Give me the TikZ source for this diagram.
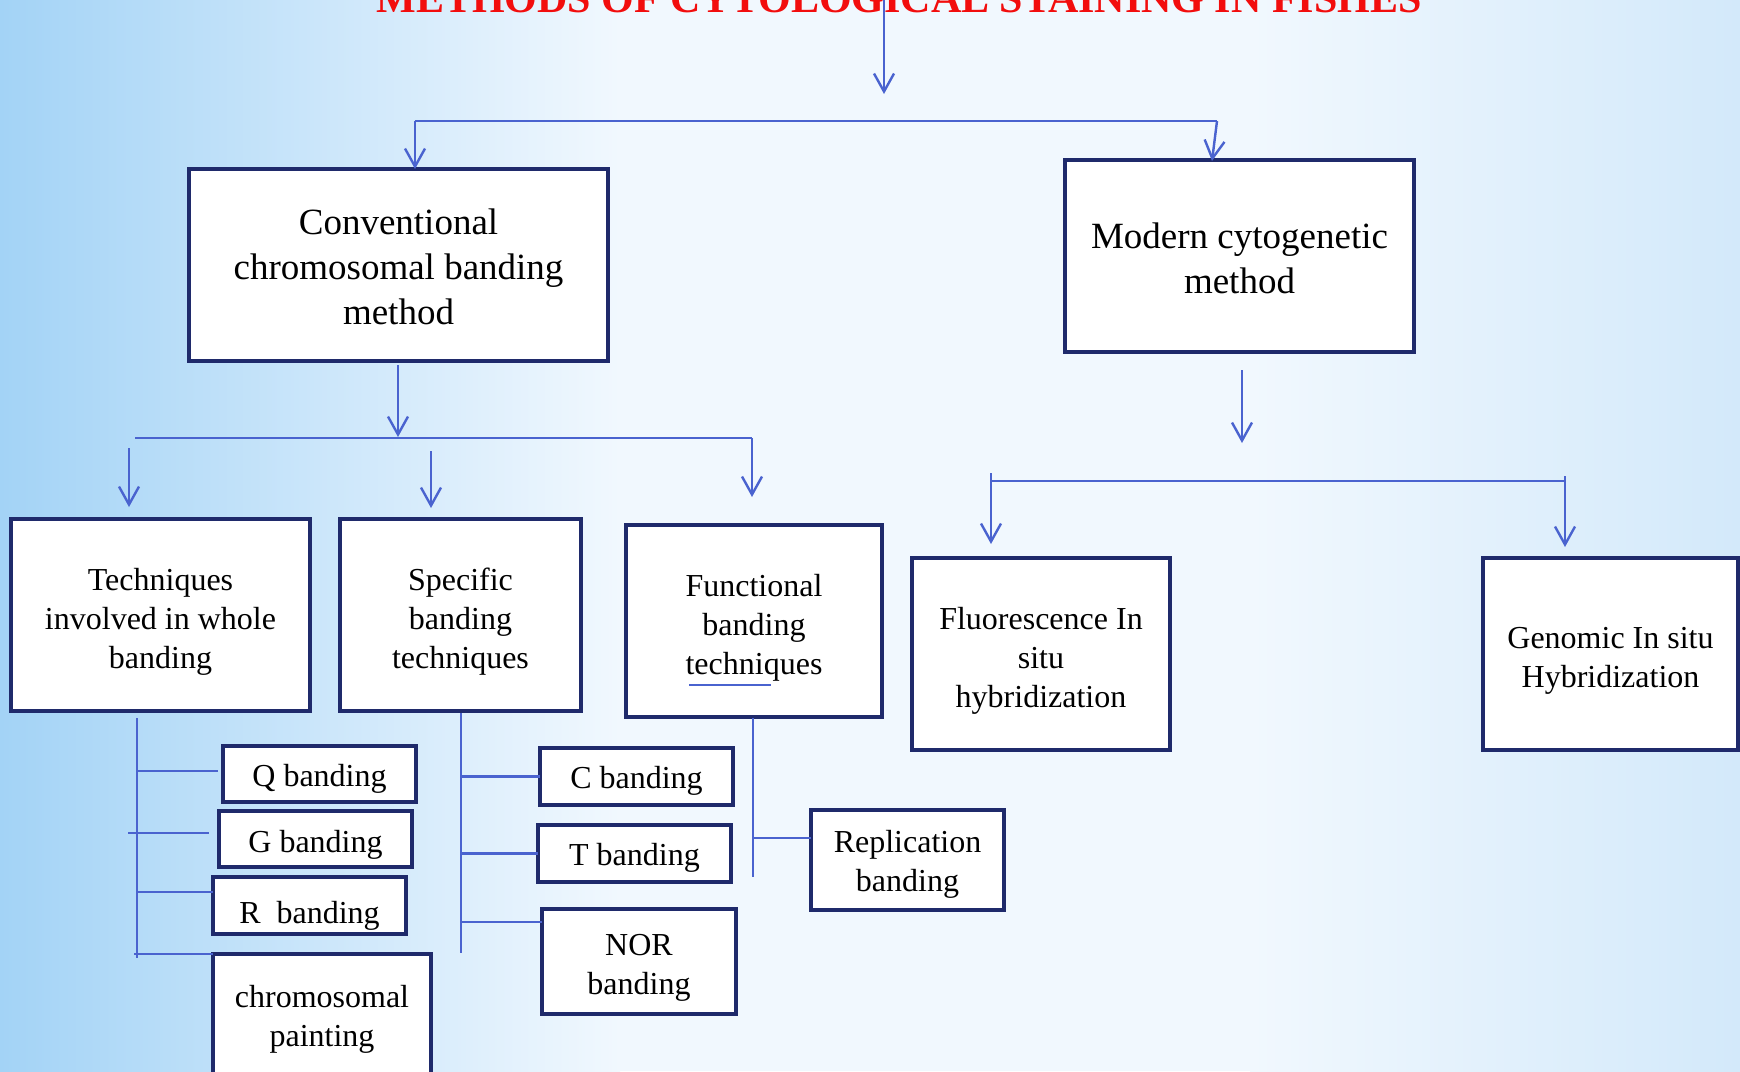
\documentclass[tikz,border=0pt]{standalone}
\usepackage{fontspec}
\setmainfont{Liberation Serif}
\usetikzlibrary{arrows.meta}
\definecolor{boxline}{HTML}{1F2A6B}
\definecolor{conn}{HTML}{4A63CF}
\definecolor{bgL}{HTML}{A3D3F6}
\definecolor{bgM}{HTML}{F1F8FE}
\definecolor{bgR}{HTML}{D3E9FA}
\definecolor{titlered}{HTML}{F20D0D}
\tikzset{
  boxshape/.style={draw=boxline, line width=3.8pt, fill=white, inner sep=0pt, outer sep=0pt},
  bigtxt/.style={align=center, inner sep=0pt, font=\fontsize{37}{45}\selectfont},
  smalltxt/.style={align=center, inner sep=0pt, font=\fontsize{32}{39}\selectfont},
  conline/.style={draw=conn, line width=2.4pt},
  arr/.style={conline, -{Straight Barb[length=18pt,width=20pt]}},
}
\begin{document}
\begin{tikzpicture}[x=1pt,y=-1pt]
\useasboundingbox (0,0) rectangle (1740,1071);
\clip (0,0) rectangle (1740,1071);
% background
\fill[bgM] (0,0) rectangle (1740,1071);
\shade[left color=bgL, right color=bgM] (0,0) rectangle (620,1071);
\shade[left color=bgM, right color=bgR] (1250,0) rectangle (1740,1071);
% title
\node[anchor=base, font=\fontsize{42}{42}\selectfont\bfseries, text=titlered, inner sep=0pt] (title) at (899,12) {METHODS OF CYTOLOGICAL STAINING IN FISHES};
% boxes
\node[boxshape, minimum width=419, minimum height=192] (conv) at (398.5,265) {};
\node[boxshape, minimum width=349, minimum height=192] (modern) at (1239.5,256) {};
\node[boxshape, minimum width=299, minimum height=192] (tech) at (160.5,615) {};
\node[boxshape, minimum width=241, minimum height=192] (spec) at (460.5,615) {};
\node[boxshape, minimum width=256, minimum height=192] (func) at (754,621) {};
\node[boxshape, minimum width=258, minimum height=192] (fish) at (1041,654) {};
\node[boxshape, minimum width=255, minimum height=192] (gish) at (1610.5,654) {};
\node[boxshape, minimum width=193, minimum height=56] (qb) at (319.5,774) {};
\node[boxshape, minimum width=193, minimum height=56] (gb) at (315.5,839) {};
\node[boxshape, minimum width=193, minimum height=57] (rb) at (309.5,905.5) {};
\node[boxshape, minimum width=218, minimum height=136] (cp) at (322,1022) {};
\node[boxshape, minimum width=193, minimum height=57] (cb) at (636.5,776.5) {};
\node[boxshape, minimum width=193, minimum height=57] (tb) at (634.5,853.5) {};
\node[boxshape, minimum width=194, minimum height=105] (nor) at (639,961.5) {};
\node[boxshape, minimum width=193, minimum height=100] (rep) at (907.5,860) {};
% texts
\node[bigtxt] (convt) at ([yshift=-2pt]conv.center) {Conventional\\chromosomal banding\\method};
\node[bigtxt] (modernt) at ([yshift=-2pt]modern.center) {Modern cytogenetic\\method};
\node[smalltxt] (techt) at ([yshift=-7pt]tech.center) {Techniques\\involved in whole\\banding};
\node[smalltxt] (spect) at ([yshift=-7pt]spec.center) {Specific\\banding\\techniques};
\node[smalltxt] (funct) at ([yshift=-7pt]func.center) {Functional\\banding\\techniques};
\node[smalltxt] (fisht) at ([yshift=-7pt]fish.center) {Fluorescence In\\situ\\hybridization};
\node[smalltxt] (gisht) at ([yshift=-7pt]gish.center) {Genomic In situ\\Hybridization};
\node[smalltxt] (qbt) at ([yshift=-4.5pt]qb.center) {Q banding};
\node[smalltxt] (gbt) at ([yshift=-5.5pt]gb.center) {G banding};
\node[smalltxt] (rbt) at ([yshift=-10pt]rb.center) {R\ \ banding};
\node[smalltxt] (cpt) at ([yshift=3pt]cp.center) {chromosomal\\painting};
\node[smalltxt] (cbt) at ([yshift=-4.5pt]cb.center) {C banding};
\node[smalltxt] (tbt) at ([yshift=-4.5pt]tb.center) {T banding};
\node[smalltxt] (nort) at ([yshift=-6.5pt]nor.center) {NOR\\banding};
\node[smalltxt] (rept) at ([yshift=-4.5pt]rep.center) {Replication\\banding};
% coordinates for free ends
\coordinate (t0) at (884,0);
\coordinate (t1) at (884,94);
\coordinate (b1) at (415,121);
\coordinate (b2) at (1217,121);
\coordinate (b2e) at (1212,161);
\coordinate (c0) at (398,365);
\coordinate (c1) at (398,437);
\coordinate (h1) at (135,438);
\coordinate (h2) at (752,438);
\coordinate (h2e) at (752,497);
\coordinate (a1) at (129,448);
\coordinate (a1e) at (129,507);
\coordinate (a2) at (431,451);
\coordinate (a2e) at (431,508);
\coordinate (m0) at (1242,370);
\coordinate (m1) at (1242,443);
\coordinate (f1) at (991,481);
\coordinate (f1s) at (991,473);
\coordinate (f1e) at (991,544);
\coordinate (f2) at (1565,481);
\coordinate (f2s) at (1565,476);
\coordinate (f2e) at (1565,547);
\coordinate (v1s) at (137,718);
\coordinate (v1e) at (137,958);
\coordinate (q0) at (137,771);
\coordinate (q1) at (218,771);
\coordinate (g0) at (128,833);
\coordinate (g1) at (209,833);
\coordinate (r0) at (137,892);
\coordinate (p0) at (134,954);
\coordinate (v2s) at (461,713);
\coordinate (v2e) at (461,953);
\coordinate (n0) at (461,922);
\coordinate (v3s) at (753,718);
\coordinate (v3e) at (753,877);
\coordinate (r1) at (753,838);
\coordinate (u0) at (689,685);
\coordinate (u1) at (771,685);
% connectors
\draw[arr] (t0) -- (t1);
\draw[conline] (b1) -- (b2);
\draw[arr] (b1) -- (b1 |- conv.north);
\draw[arr] (b2) -- (b2e);
\draw[arr] (c0) -- (c1);
\draw[conline] (h1) -- (h2);
\draw[arr] (h2) -- (h2e);
\draw[arr] (a1) -- (a1e);
\draw[arr] (a2) -- (a2e);
\draw[arr] (m0) -- (m1);
\draw[conline] (f1) -- (f2);
\draw[arr] (f1s) -- (f1e);
\draw[arr] (f2s) -- (f2e);
\draw[conline] (v1s) -- (v1e);
\draw[conline] (q0) -- (q1);
\draw[conline] (g0) -- (g1);
\draw[conline] (r0) -- (r0 -| rb.west);
\draw[conline] (p0) -- (cp.north west);
\draw[conline] (v2s) -- (v2e);
\draw[conline] (v2s |- cb.west) -- (cb.west);
\draw[conline] (v2s |- tb.west) -- (tb.west);
\draw[conline] (n0) -- (n0 -| nor.west);
\draw[conline] (v3s) -- (v3e);
\draw[conline] (r1) -- (r1 -| rep.west);
\draw[conline] (u0) -- (u1);
\end{tikzpicture}
\end{document}
